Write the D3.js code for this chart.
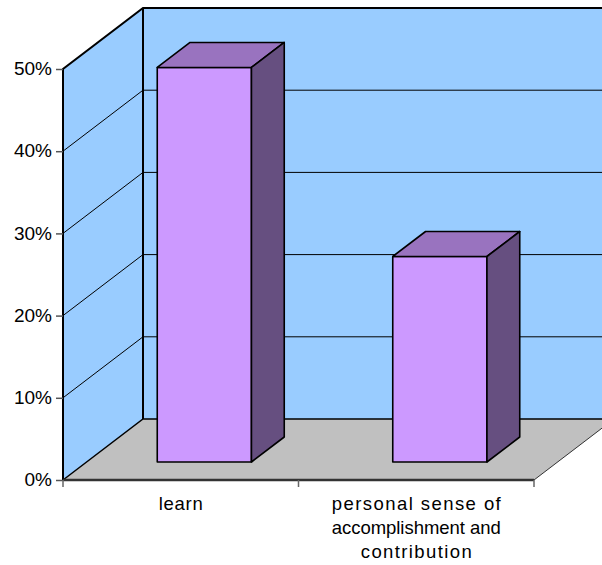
<!DOCTYPE html>
<html>
<head>
<meta charset="utf-8">
<script src="https://cdn.jsdelivr.net/npm/d3@7"></script>
<style>
  html, body { margin: 0; padding: 0; background: #fff; }
  svg { display: block; }
  text { font-family: "Liberation Sans", Arial, sans-serif; fill: #000; }
</style>
</head>
<body>
<svg id="chart" width="602" height="565"></svg>
<script>
// Chart data
const categories = ["learn", "personal sense of accomplishment and contribution"];
const categoryLines = [["learn"], ["personal sense of", "accomplishment and", "contribution"]];
const values = [0.48, 0.25];
const tickValues = [0, 0.1, 0.2, 0.3, 0.4, 0.5];

const svg = d3.select("#chart");

// Oblique 3D frame: depth z in [0,1] shifts points right and up
const depthDX = 80, depthDY = -61;
const x = d3.scaleBand().domain(categories).range([63, 534]).paddingInner(0.6).paddingOuter(0.3);
const y = d3.scaleLinear().domain([0, 0.5]).range([480, 69]);
const step = x.step();
const xLeft = x.range()[0], xRight = x.range()[1];
const P = (px, v, z) => [px + z * depthDX, y(v) + z * depthDY];
const line = d3.line();

const colors = {
  wall: "#99CCFF", floor: "#C0C0C0",
  front: "#CC99FF", top: "#9973BF", side: "#664F80"
};

// Back wall
const backWall = [P(xLeft, 0, 1), P(xLeft, 0.5, 1), P(xRight, 0.5, 1), P(xRight, 0, 1)];
svg.append("path").attr("d", line(backWall) + "Z").attr("fill", colors.wall);

// Side wall
const sideWall = [P(xLeft, 0, 0), P(xLeft, 0.5, 0), P(xLeft, 0.5, 1), P(xLeft, 0, 1)];
svg.append("path").attr("d", line(sideWall) + "Z").attr("fill", colors.wall);

// Floor
const floor = [P(xLeft, 0, 0), P(xLeft, 0, 1), P(xRight, 0, 1), P(xRight, 0, 0)];
svg.append("path").attr("d", line(floor) + "Z").attr("fill", colors.floor);

// Gridlines on both walls
const grid = svg.append("g").attr("stroke", "#000").attr("stroke-width", 1).attr("fill", "none");
tickValues.filter(v => v > 0 && v < 0.5).forEach(v => {
  grid.append("path").attr("d", line([P(xLeft, v, 0), P(xLeft, v, 1), P(xRight, v, 1)]));
});

// Wall and floor edges
const edges = svg.append("g").attr("fill", "none").attr("stroke", "#000");
edges.append("path").attr("stroke-width", 2)
  .attr("d", line([P(xLeft, 0, 0), P(xLeft, 0.5, 0), P(xLeft, 0.5, 1), P(xRight, 0.5, 1)]));
edges.append("path").attr("stroke-width", 2)
  .attr("d", line([P(xLeft, 0.5, 1), P(xLeft, 0, 1)]));
edges.append("path").attr("stroke-width", 1.5)
  .attr("d", line([P(xLeft, 0, 0), P(xLeft, 0, 1), P(xRight, 0, 1)]));
edges.append("path").attr("stroke-width", 1).attr("stroke", "#333")
  .attr("d", line([P(xRight, 0, 0), P(xRight, 0, 1)]));

// Bars: front, top and right faces
const z0 = 0.295, z1 = 0.705;
const bars = svg.append("g").attr("stroke", "#000").attr("stroke-width", 1.6).attr("stroke-linejoin", "round");
categories.forEach((c, i) => {
  const x0 = x(c), x1 = x(c) + x.bandwidth(), v = values[i];
  bars.append("path").attr("fill", colors.front)
    .attr("d", line([P(x0, 0, z0), P(x0, v, z0), P(x1, v, z0), P(x1, 0, z0)]) + "Z");
  bars.append("path").attr("fill", colors.top)
    .attr("d", line([P(x0, v, z0), P(x0, v, z1), P(x1, v, z1), P(x1, v, z0)]) + "Z");
  bars.append("path").attr("fill", colors.side)
    .attr("d", line([P(x1, 0, z0), P(x1, v, z0), P(x1, v, z1), P(x1, 0, z1)]) + "Z");
});

// Value axis
const yAxis = svg.append("g").attr("transform", `translate(${xLeft},0)`)
  .call(d3.axisLeft(y).tickValues(tickValues).tickFormat(d3.format(".0%")).tickSize(7).tickPadding(4));
yAxis.select(".domain").remove();
yAxis.selectAll(".tick line").attr("stroke", "#555").attr("stroke-width", 1.5);
yAxis.selectAll(".tick text").attr("font-size", 19).attr("font-family", "Liberation Sans, Arial, sans-serif")
  .attr("fill", "#000").attr("dy", "0.3em");

// Category axis
svg.append("path").attr("stroke", "#333").attr("stroke-width", 2.5).attr("fill", "none")
  .attr("d", line([[xLeft, y(0)], [xRight, y(0)]]));
const boundaries = d3.range(categories.length + 1).map(i => xLeft + i * step);
svg.append("g").selectAll("line").data(boundaries).join("line")
  .attr("x1", d => d).attr("x2", d => d).attr("y1", y(0)).attr("y2", y(0) + 7)
  .attr("stroke", "#666").attr("stroke-width", 1.5);

// Category labels, wrapped onto several lines
const lineWidths = { "learn": 44, "personal sense of": 169, "accomplishment and": 169, "contribution": 111 };
const labels = svg.append("g").attr("text-anchor", "middle").attr("font-size", 18.5);
categories.forEach((c, i) => {
  const cx = xLeft + (i + 0.5) * step;
  categoryLines[i].forEach((ln, j) => {
    labels.append("text").attr("x", cx).attr("y", 510 + j * 24)
      .attr("textLength", lineWidths[ln]).attr("lengthAdjust", "spacing")
      .text(ln);
  });
});
</script>
</body>
</html>
